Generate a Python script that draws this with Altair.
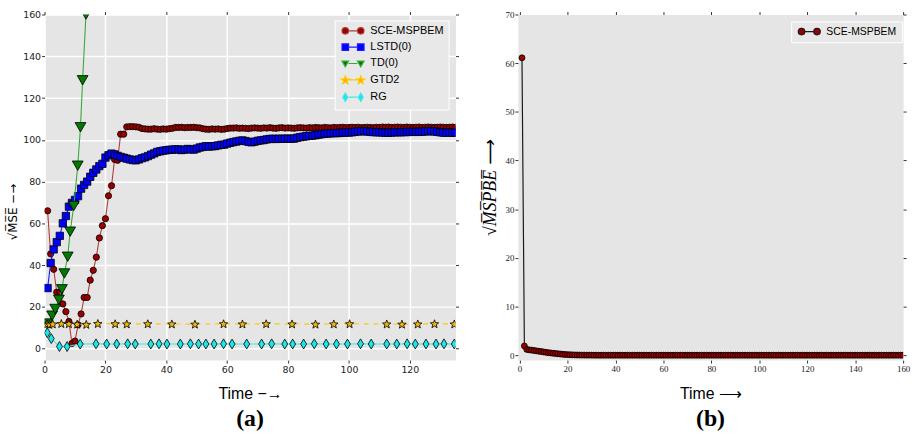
import math
import altair as alt
import pandas as pd

# ================= Panel (a): sqrt(MSE) vs Time =================
SERIES_A = ["SCE-MSPBEM", "LSTD(0)", "TD(0)", "GTD2", "RG"]

SCE_A = [
    66, 45.4, 38, 27, 27, 21.4, 17.7, 13, 2.5, 3.6,
    11.4, 16.6, 24.5, 24.5, 32.8, 37.5, 43.8, 53, 58.9, 62.2,
    73.2, 78, 90.6, 90.2, 102.7, 102.7,
    106.2, 106.3, 106.3, 106.2, 106.0,
    105.4, 105.2, 105.1, 105.1, 105.3,
    105.1, 105.0, 105.2, 105.1, 105.3,
    105.5, 105.9, 105.9, 106.0, 105.8,
    105.9, 105.9, 106.0, 105.8, 105.7,
    105.3, 105.1, 105.0, 105.2, 105.1,
    105.2, 105.0, 105.1, 105.4, 105.6,
    105.6, 105.7, 105.5, 105.6, 105.5,
    105.4, 105.6, 105.7, 105.6, 105.5,
    105.7, 105.6, 105.8, 105.6, 105.5,
    105.7, 105.8, 105.6, 105.7, 105.6,
    105.5, 105.7, 105.8, 105.7, 105.6,
    105.8, 105.7, 105.9, 105.8, 105.7,
    105.9, 105.8, 105.7, 105.9, 105.8,
    105.9, 106.0, 105.8, 105.9, 106.0,
    105.9, 106.0, 105.8, 105.9, 106.0,
    105.9, 105.8, 106.0, 105.9, 106.1,
    106.0, 106.1, 105.9, 106.0, 106.1,
    106.0, 105.9, 106.1, 106.0, 105.9,
    106.0, 106.1, 105.9, 106.0, 106.1,
    106.0, 105.9, 106.0, 106.1, 106.0,
    105.9, 106.0, 106.1, 106.0,
]

LSTD_A = [
    29, 41, 47.5, 51, 54, 60, 63.5, 68, 69.8, 71.2,
    73, 76.6, 78.4, 80, 82.3, 84.2, 85.8, 87.4, 88.5, 91.5,
    92.6, 93.4, 93.0, 92.3, 91.8, 91.4, 91.0, 90.6, 90.3, 90.2,
    90.6, 91.2, 91.6, 92.2, 92.9, 93.5, 94.2, 94.5, 94.8, 95.0,
    95.2, 95.3, 95.4, 95.4, 95.1, 95.3, 95.6, 95.4, 95.3, 95.8,
    96.3, 96.6, 96.9, 96.8, 96.9, 97.0, 97.3, 97.6, 97.7, 98.2,
    98.6, 98.9, 99.2, 99.5, 99.7, 99.4, 99.0, 98.8, 99.1, 99.5,
    99.7, 99.9, 100.2, 100.4, 100.5, 100.4, 100.5, 100.5, 100.5, 100.6,
    100.5, 100.6, 101.0, 101.3, 101.5, 101.7, 101.9, 102.0, 102.2, 102.5,
    102.7, 102.9, 103.0, 103.1, 103.2, 103.2, 103.3, 103.4, 103.5, 103.5,
    103.6, 103.8, 104.0, 104.1, 104.1, 104.0, 103.8, 103.7, 103.6, 103.6,
    103.5, 103.4, 103.4, 103.5, 103.6, 103.6, 103.6, 103.7, 103.7, 103.8,
    103.8, 103.8, 103.8, 103.9, 104.0, 104.1, 104.1, 104.0, 103.8, 103.6,
    103.4, 103.4, 103.5, 103.4, 103.4,
]

TD_T = [1, 2.5, 3.5, 4.7, 5.7, 6.5, 7.6, 8.4, 9.6, 10.9, 11.8, 12.5, 13.6, 14.5]
TD_V = [12, 15.8, 19, 23.4, 28.4, 36, 44, 56, 68.3, 87.6, 106, 128.5, 160, 190]

GTD_T = [0.8, 1.6, 2.7, 5.5, 8.0, 10.7, 13.7, 17.5, 23.2, 27.0,
         33.9, 41.8, 49.4, 58.8, 65.0, 72.8, 81.3, 89.0, 95.0, 100.2,
         112.4, 117.4, 122.6, 128.1, 134.6]
GTD_V = [11.8, 11.6, 11.8, 12.0, 11.9, 11.7, 11.6, 12.0, 11.9, 11.8,
         11.9, 11.8, 11.7, 11.9, 11.8, 11.9, 11.8, 11.7, 11.8, 11.9,
         11.8, 11.7, 11.8, 11.9, 11.8]

RG_T = [0.9, 2.2, 4.9, 7.4, 11.7, 16.9, 20.4, 23.7, 27.3, 29.8,
        34.9, 37.6, 40.2, 44.6, 47.9, 50.6, 53.0, 55.7, 58.8, 61.6,
        66.4, 71.3, 74.6, 78.9, 81.5, 85.1, 88.6, 92.5, 95.9, 99.5,
        103.8, 107.3, 112.4, 115.7, 119.1, 121.8, 125.3, 128.6, 131.2, 134.6]
RG_V = [7.6, 4.8, 1.0, 1.0, 2.2, 2.3, 2.2, 2.2, 2.3, 2.2,
        2.2, 2.3, 2.2, 2.2, 2.3, 2.2, 2.2, 2.2, 2.3, 2.2,
        2.2, 2.2, 2.3, 2.2, 2.2, 2.2, 2.3, 2.2, 2.2, 2.2,
        2.3, 2.2, 2.2, 2.2, 2.3, 2.2, 2.2, 2.2, 2.3, 2.2]

X_TICKS_A = [0, 20, 40, 60, 80, 100, 120]
Y_TICKS_A = [0, 20, 40, 60, 80, 100, 120, 140, 160]

# ================= Panel (b): sqrt(MSPBE) vs Time =================
SERIES_B = ["SCE-MSPBEM"]
SCE_B = [
    61.1, 1.9, 1.2, 1.1, 1.05, 0.98, 0.9, 0.83, 0.76, 0.68,
    0.6, 0.53, 0.47, 0.41, 0.35, 0.3, 0.25, 0.2, 0.16, 0.13,
    0.1, 0.08, 0.06, 0.05, 0.04, 0.03, 0.03, 0.02, 0.02, 0.02,
    0.01, 0.01, 0.01, 0.01, 0.01, 0.01, 0.01, 0.01, 0.01, 0.01,
    0.01, 0.01, 0.01, 0.01, 0.01, 0.01, 0.01, 0.01, 0.01, 0.01,
    0.01, 0.01, 0.01, 0.01, 0.01, 0.01, 0.01, 0.01, 0.01, 0.01,
    0.01, 0.01, 0.01, 0.01, 0.01, 0.01, 0.01, 0.01, 0.01, 0.01,
    0.01, 0.01, 0.01, 0.01, 0.01, 0.01, 0.01, 0.01, 0.01, 0.01,
    0.01, 0.01, 0.01, 0.01, 0.01, 0.01, 0.01, 0.01, 0.01, 0.01,
    0.01, 0.01, 0.01, 0.01, 0.01, 0.01, 0.01, 0.01, 0.01, 0.01,
    0.01, 0.01, 0.01, 0.01, 0.01, 0.01, 0.01, 0.01, 0.01, 0.01,
    0.01, 0.01, 0.01, 0.01, 0.01, 0.01, 0.01, 0.01, 0.01, 0.01,
    0.01, 0.01, 0.01, 0.01, 0.01, 0.01, 0.01, 0.01, 0.01, 0.01,
    0.01, 0.01, 0.01, 0.01, 0.01, 0.01, 0.01, 0.01, 0.01, 0.01,
    0.01, 0.01, 0.01, 0.01, 0.01, 0.01, 0.01, 0.01, 0.01, 0.01,
    0.01, 0.01, 0.01, 0.01, 0.01, 0.01, 0.01, 0.01, 0.01, 0.01,
]
X_TICKS_B = [0, 20, 40, 60, 80, 100, 120, 140, 160]
Y_TICKS_B = [0, 10, 20, 30, 40, 50, 60, 70]

# ================= styles =================
BG = "#e5e5e5"
FILL_A = ["#990000", "#0000ff", "#007a00", "#f2b705", "#1ee6e6"]
LINE_A = ["#b03c3c", "#1a1aff", "#3aa83a", "#ffc800", "#40e8e8"]


def fmt(v):
    return f"{v:.3f}".rstrip("0").rstrip(".")


def circle_p(cx, r):
    return (f"M{fmt(cx - r)},0A{fmt(r)},{fmt(r)} 0 1,0 {fmt(cx + r)},0"
            f"A{fmt(r)},{fmt(r)} 0 1,0 {fmt(cx - r)},0Z")


def square_p(cx, r):
    return (f"M{fmt(cx - r)},{fmt(-r)}L{fmt(cx + r)},{fmt(-r)}"
            f"L{fmt(cx + r)},{fmt(r)}L{fmt(cx - r)},{fmt(r)}Z")


def tri_p(cx, r):
    return (f"M{fmt(cx - r)},{fmt(-0.75 * r)}L{fmt(cx + r)},{fmt(-0.75 * r)}"
            f"L{fmt(cx)},{fmt(r)}Z")


def diamond_p(cx, r):
    return (f"M{fmt(cx)},{fmt(-1.25 * r)}L{fmt(cx + 0.75 * r)},0"
            f"L{fmt(cx)},{fmt(1.25 * r)}L{fmt(cx - 0.75 * r)},0Z")


def star_p(cx, r):
    pts = []
    for k in range(10):
        ang = math.radians(-90 + 36 * k)
        rad = 1.3 * r if k % 2 == 0 else 1.3 * r * 0.42
        pts.append((cx + rad * math.cos(ang), 0.12 * r + rad * math.sin(ang)))
    return "M" + "L".join(f"{fmt(x)},{fmt(y)}" for x, y in pts) + "Z"


def pair(fn, d=2.6, r=1.1):
    return fn(-d, r) + fn(d, r) + f"M{fmt(-d + r)},0L{fmt(d - r)},0"


LEG_PATHS_A = [pair(circle_p), pair(square_p), pair(tri_p), pair(star_p), pair(diamond_p)]
LEG_PATHS_B = [pair(circle_p)]

STAR = star_p(0, 1.0 / 1.3)
THIN_DIAMOND = diamond_p(0, 0.8)
VIEW = alt.ViewBackground(fill=BG, stroke="transparent")


def legend(x, y, size):
    return alt.Legend(
        title=None, orient="none", legendX=x, legendY=y,
        fillColor="#e8e8e8", strokeColor="white", padding=5, rowPadding=3.5,
        labelFont="Liberation Sans", labelFontSize=size, labelColor="black",
        symbolSize=36, symbolStrokeWidth=1.2, symbolOpacity=1,
        symbolOffset=8, labelOffset=12,
    )


def sans_axis(**kw):
    base = dict(domain=False, tickSize=3, tickColor="#333", labelColor="#222",
                labelFlush=False, labelOverlap=False)
    base.update(kw)
    return alt.Axis(**base)


# ---------------- panel (a) ----------------
dom_xa = alt.Scale(domain=[0, 135], nice=False, zero=False)
dom_ya = alt.Scale(domain=[-5.5, 160], nice=False, zero=False)

bottom_a = sans_axis(orient="bottom", values=X_TICKS_A, grid=True, gridColor="white",
                     gridWidth=1.5, labelFont="DejaVu Sans", labelFontSize=9.5,
                     labelPadding=2, title="Time −→", titleFont="Liberation Sans",
                     titleFontSize=16, titleFontWeight="normal", titleColor="black",
                     titlePadding=11)
left_a = sans_axis(orient="left", values=Y_TICKS_A, grid=True, gridColor="white",
                   gridWidth=1.5, labelFont="DejaVu Sans", labelFontSize=9.5,
                   labelPadding=1, title="√M̅S̅E̅ −→", titleFont="DejaVu Sans",
                   titleFontSize=12, titleFontWeight="normal", titleColor="black",
                   titlePadding=3, titleY=199)
top_a = sans_axis(orient="top", values=X_TICKS_A, labels=False, grid=False, title=None)
right_a = sans_axis(orient="right", values=Y_TICKS_A, labels=False, grid=False, title=None)

df_sce = pd.DataFrame({"t": list(range(1, len(SCE_A) + 1)), "v": SCE_A})
df_lstd = pd.DataFrame({"t": list(range(1, len(LSTD_A) + 1)), "v": LSTD_A})
df_td = pd.DataFrame({"t": TD_T, "v": TD_V})
df_gtd = pd.DataFrame({"t": GTD_T, "v": GTD_V})
df_rg = pd.DataFrame({"t": RG_T, "v": RG_V})

specs_a = [
    (df_sce, 0, "circle", 40, None),
    (df_lstd, 1, "square", 55, None),
    (df_td, 2, "triangle-down", 120, None),
    (df_gtd, 3, STAR, 80, [5, 5]),
    (df_rg, 4, THIN_DIAMOND, 100, None),
]

layers_a = []
for i, (df, k, shape, size, dash) in enumerate(specs_a):
    line_kw = dict(color=LINE_A[k], strokeWidth=1.1, clip=True)
    if dash:
        line_kw["strokeDash"] = dash
    if i == 0:
        xl = alt.X("t:Q", scale=dom_xa, axis=bottom_a)
        yl = alt.Y("v:Q", scale=dom_ya, axis=left_a)
        xp = alt.X("t:Q", scale=dom_xa, axis=top_a)
        yp = alt.Y("v:Q", scale=dom_ya, axis=right_a)
    else:
        xl = xp = alt.X("t:Q", scale=dom_xa, axis=None)
        yl = yp = alt.Y("v:Q", scale=dom_ya, axis=None)
    layers_a.append(alt.Chart(df).mark_line(**line_kw).encode(x=xl, y=yl))
    layers_a.append(
        alt.Chart(df).mark_point(filled=True, fill=FILL_A[k], stroke="black",
                                 strokeWidth=0.8, shape=shape, size=size,
                                 opacity=1, clip=True).encode(x=xp, y=yp)
    )

leg_a = legend(293, 6, 11)
legend_layer_a = alt.Chart(pd.DataFrame({"series": SERIES_A})).mark_point(
    filled=True, opacity=0
).encode(
    fill=alt.Fill("series:N", scale=alt.Scale(domain=SERIES_A, range=FILL_A), legend=leg_a),
    stroke=alt.Stroke("series:N", scale=alt.Scale(domain=SERIES_A, range=LINE_A), legend=leg_a),
    shape=alt.Shape("series:N", scale=alt.Scale(domain=SERIES_A, range=LEG_PATHS_A), legend=leg_a),
)

panel_a = alt.layer(*layers_a, legend_layer_a).resolve_axis(
    x="independent", y="independent"
).properties(
    width=415, height=349, view=VIEW,
    title=alt.TitleParams("(a)", orient="bottom", anchor="middle", font="Liberation Serif",
                          fontSize=24, fontWeight="bold", color="black", offset=6),
)

# ---------------- panel (b) ----------------
dom_xb = alt.Scale(domain=[-0.7, 160], nice=False, zero=False)
dom_yb = alt.Scale(domain=[-1.0, 70], nice=False, zero=False)

bottom_b = sans_axis(orient="bottom", values=X_TICKS_B, grid=False,
                     labelFont="Liberation Serif", labelFontSize=9, labelPadding=2,
                     title="Time ⟶", titleFont="Liberation Sans", titleFontSize=16,
                     titleFontWeight="normal", titleColor="black", titlePadding=12)
left_b = sans_axis(orient="left", values=Y_TICKS_B, grid=False,
                   labelFont="Liberation Serif", labelFontSize=9, labelPadding=1,
                   title="√M̅S̅P̅B̅E̅ ⟶", titleFont="Liberation Serif", titleFontStyle="italic",
                   titleFontSize=18, titleFontWeight="normal", titleColor="black",
                   titlePadding=6)
top_b = sans_axis(orient="top", values=X_TICKS_B, labels=False, grid=False, title=None)
right_b = sans_axis(orient="right", values=Y_TICKS_B, labels=False, grid=False, title=None)

df_b = pd.DataFrame({"t": list(range(1, len(SCE_B) + 1)), "v": SCE_B})
line_b = alt.Chart(df_b).mark_line(color="#1a1a1a", strokeWidth=1.2, clip=True).encode(
    x=alt.X("t:Q", scale=dom_xb, axis=bottom_b),
    y=alt.Y("v:Q", scale=dom_yb, axis=left_b),
)
pts_b = alt.Chart(df_b).mark_point(filled=True, fill="#990000", stroke="black",
                                   strokeWidth=0.8, shape="circle", size=36,
                                   opacity=1, clip=True).encode(
    x=alt.X("t:Q", scale=dom_xb, axis=top_b),
    y=alt.Y("v:Q", scale=dom_yb, axis=right_b),
)
leg_b = legend(276, 7, 10.5)
legend_layer_b = alt.Chart(pd.DataFrame({"series": SERIES_B})).mark_point(
    filled=True, opacity=0
).encode(
    fill=alt.Fill("series:N", scale=alt.Scale(domain=SERIES_B, range=["#990000"]), legend=leg_b),
    stroke=alt.Stroke("series:N", scale=alt.Scale(domain=SERIES_B, range=["#1a1a1a"]), legend=leg_b),
    shape=alt.Shape("series:N", scale=alt.Scale(domain=SERIES_B, range=LEG_PATHS_B), legend=leg_b),
)

panel_b = alt.layer(line_b, pts_b, legend_layer_b).resolve_axis(
    x="independent", y="independent"
).properties(
    width=389, height=349, view=VIEW,
    title=alt.TitleParams("(b)", orient="bottom", anchor="middle", font="Liberation Serif",
                          fontSize=24, fontWeight="bold", color="black", offset=6),
)

chart = alt.hconcat(panel_a, panel_b, spacing=21).resolve_scale(
    fill="independent", stroke="independent", shape="independent"
).resolve_legend(
    fill="independent", stroke="independent", shape="independent"
).properties(
    padding={"left": 6, "top": 6.5, "right": 4, "bottom": 3},
    background="white",
).configure_view(fill=BG, stroke="transparent")

chart.save("out.html", embed_options={"renderer": "svg", "actions": False})
